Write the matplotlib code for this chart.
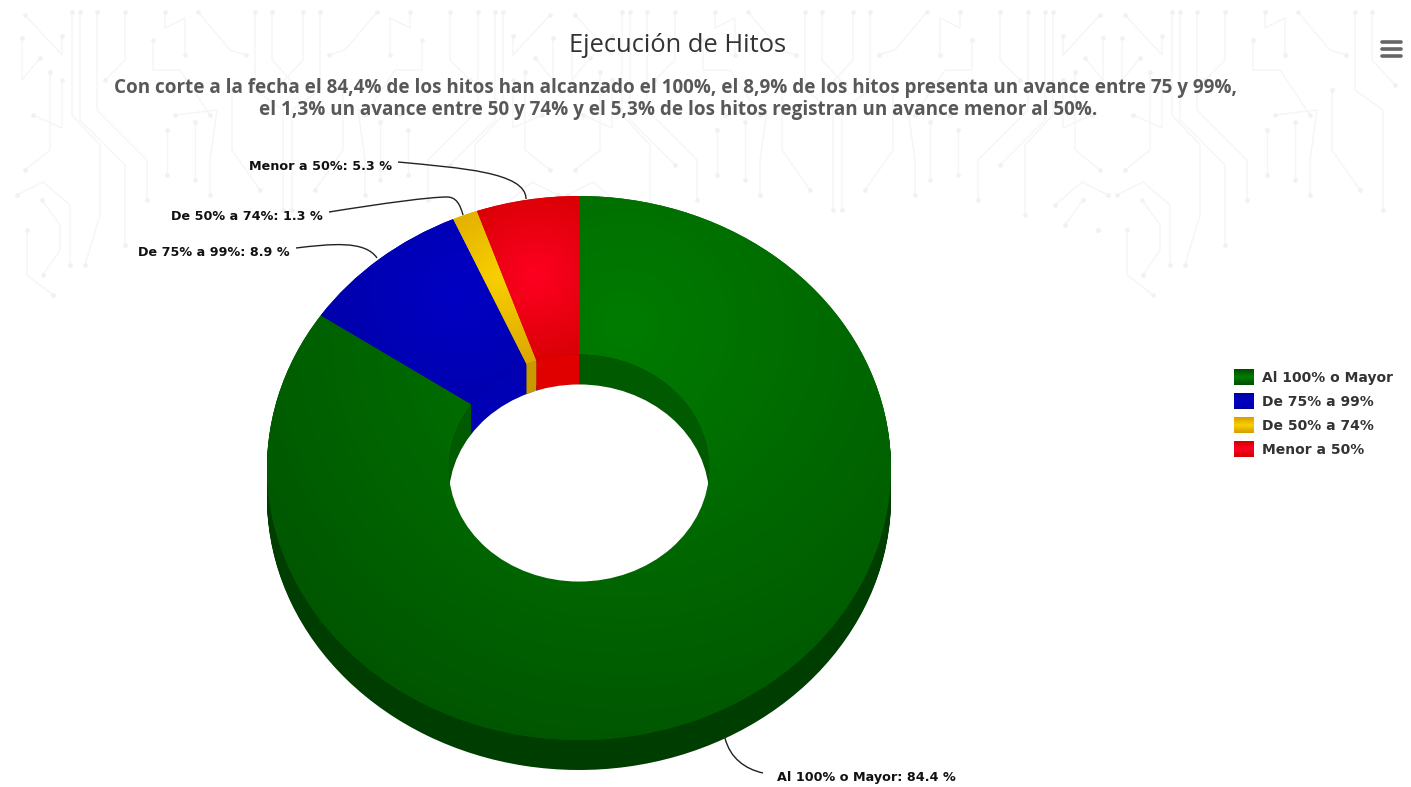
import matplotlib

matplotlib.use("Agg")

import matplotlib.pyplot as plt
import numpy as np
from matplotlib.colors import LinearSegmentedColormap
from matplotlib.patches import Circle, PathPatch, Polygon
from matplotlib.path import Path

WIDTH, HEIGHT = 1411, 787

TITLE = "Ejecución de Hitos"
SUBTITLE = [
    "Con corte a la fecha el 84,4% de los hitos han alcanzado el 100%, el 8,9% de los hitos presenta un avance entre 75 y 99%,",
    "el 1,3% un avance entre 50 y 74% y el 5,3% de los hitos registran un avance menor al 50%.",
]

categories = ["Al 100% o Mayor", "De 75% a 99%", "De 50% a 74%", "Menor a 50%"]
values = [84.4, 8.9, 1.3, 5.3]

# donut geometry in pixels (squashed circle plus extruded depth)
CX, CY = 579, 468
RX, RY = 312, 272
INNER = 0.4175
DEPTH = 30

side_colors = ["#003d00", "#00006e", "#8a6c00", "#8a0000"]
wall_colors = ["#005a00", "#0000b4", "#c89a00", "#e00000"]
base_colors = ["#005a00", "#0000b0", "#e0b000", "#e00000"]
# gradient per slice: center x, center y, reach, inner colour, outer colour
gradients = [
    (625, 325, 500, "#007c00", "#005000"),
    (460, 290, 190, "#0000c4", "#0000a2"),
    (498, 275, 110, "#f8d000", "#d8a000"),
    (535, 275, 100, "#ff0022", "#d40000"),
]

# circuit decoration in the page background, one tile
TILE_W = 300
traces = [
    [(72, 12), (72, 115), (100, 145), (100, 215), (85, 265)],
    [(80, 12), (80, 120), (125, 165), (125, 245)],
    [(97, 12), (97, 110), (147, 160), (147, 200)],
    [(125, 12), (125, 60), (105, 80)],
    [(22, 38), (22, 80), (40, 58)],
    [(25, 15), (62, 55), (62, 36)],
    [(50, 72), (50, 150), (25, 170)],
    [(62, 80), (62, 128), (33, 115)],
    [(17, 195), (43, 182), (70, 205), (70, 265)],
    [(42, 200), (60, 225), (60, 250), (43, 275)],
    [(27, 230), (27, 275), (53, 295)],
    [(165, 12), (165, 28), (185, 18), (185, 55)],
    [(198, 12), (230, 50), (246, 55)],
    [(153, 40), (153, 70), (180, 70), (210, 115)],
    [(175, 115), (217, 110), (210, 160), (210, 195)],
    [(167, 130), (167, 175)],
    [(195, 122), (195, 180)],
    [(232, 90), (232, 150), (260, 190)],
    [(255, 12), (255, 90), (283, 110), (283, 210)],
    [(272, 12), (272, 60), (295, 85)],
]
tile_x = [0, 275, 550, 825, 1100]

icon_y = [42, 49, 56]
legend_y = [377, 401, 425, 449]

label_anchor = [(777, 777, "left"), (290, 253, "right"), (323, 217, "right"), (392, 166, "right")]
leaders = [
    [(725, 738), (730, 758), (745, 769), (763, 773)],
    [(296, 248), (330, 244), (365, 240), (377, 258)],
    [(329, 212), (385, 203), (430, 197), (447, 197), (456, 197), (460, 204), (463, 215)],
    [(398, 162), (460, 168), (526, 172), (526, 199)],
]

fig = plt.figure(figsize=(WIDTH / 100, HEIGHT / 100), dpi=100, facecolor="white")

# background and text layers work in pixels, y going down
bg_ax = fig.add_axes([0, 0, 1, 1], zorder=0)
pie_ax = fig.add_axes([0, 0, 1, 1], zorder=1)
top_ax = fig.add_axes([0, 0, 1, 1], zorder=2)
for a in (bg_ax, top_ax):
    a.set_axis_off()
    a.patch.set_alpha(0)

for i, x0 in enumerate(tile_x):
    for trace in traces:
        pts = np.array(trace, dtype=float)
        # every other tile is mirrored, the pattern runs on that way
        xs = x0 + TILE_W - pts[:, 0] if i % 2 else x0 + pts[:, 0]
        # the middle tiles fade out earlier than the outer ones
        keep = pts[:, 1] < (335 if i in (0, 4) else 240)
        bg_ax.plot(xs[keep], pts[keep, 1], color="#f5f5f7", lw=1.0, solid_capstyle="round")
        bg_ax.plot(xs[keep][[0, -1]], pts[keep, 1][[0, -1]], "o", color="#f1f1f3", ms=3.4, mew=0)

# pie layer: unit circle of the pie is stretched to RX, RY by the axis limits
depth_u = DEPTH / RY
for d in range(DEPTH, 0, -1):
    side, _ = pie_ax.pie(values, colors=side_colors, startangle=90, counterclock=False,
                         radius=1.0, center=(0, -d / RY))
    for w in side:
        w.set_zorder(1)

wedges, _ = pie_ax.pie(values, colors=base_colors, startangle=90, counterclock=False,
                       radius=1.0, wedgeprops={"width": 1 - INNER})

px, py = np.meshgrid(np.linspace(0, WIDTH, 353), np.linspace(0, HEIGHT, 197))
extent = (-CX / RX, (WIDTH - CX) / RX, (CY - HEIGHT) / RY, CY / RY)
for w, (gx, gy, reach, c_in, c_out) in zip(wedges, gradients):
    w.set_zorder(2)
    dist = np.clip(np.hypot(px - gx, py - gy) / reach, 0, 1)
    cmap = LinearSegmentedColormap.from_list("slice", [c_in, c_out])
    im = pie_ax.imshow(dist, cmap=cmap, vmin=0, vmax=1, extent=extent, origin="upper",
                       aspect="auto", interpolation="bilinear", zorder=3)
    im.set_clip_path(w)

# inner wall of the hole
hole_clip = Circle((0, 0), INNER, transform=pie_ax.transData)
for w, color in zip(wedges, wall_colors):
    theta = np.radians(np.linspace(w.theta1, w.theta2, 200))
    ax_x = INNER * np.cos(theta)
    ax_y = INNER * np.sin(theta)
    outline = np.vstack([
        np.column_stack([ax_x, ax_y]),
        np.column_stack([ax_x[::-1], ax_y[::-1] - depth_u]),
    ])
    wall = Polygon(outline, closed=True, facecolor=color, edgecolor="none", zorder=4)
    pie_ax.add_patch(wall)
    wall.set_clip_path(hole_clip)

hole = Circle((0, -depth_u), INNER, facecolor="white", edgecolor="none", zorder=5)
pie_ax.add_patch(hole)
hole.set_clip_path(hole_clip)

pie_ax.set_aspect("auto")
pie_ax.set_xlim(extent[0], extent[1])
pie_ax.set_ylim(extent[2], extent[3])

# leader lines and data labels
for pts in leaders:
    codes = [Path.MOVETO] + [Path.CURVE4] * (len(pts) - 1)
    top_ax.add_patch(PathPatch(Path(pts, codes), facecolor="none", edgecolor="#222222", lw=1.0))

for cat, val, (x, y, ha) in zip(categories, values, label_anchor):
    top_ax.text(x, y, f"{cat}: {val} %", ha=ha, va="center", fontsize=9.2,
                fontweight="bold", family="DejaVu Sans", color="#111111")

top_ax.text(678, 46, TITLE, ha="center", va="center", fontsize=18.4,
            family="Open Sans", color="#333333")
top_ax.text(676, 88, SUBTITLE[0], ha="center", va="center", fontsize=13.6,
            family="Open Sans", fontweight="bold", color="#585858")
top_ax.text(678, 110, SUBTITLE[1], ha="center", va="center", fontsize=13.6,
            family="Open Sans", fontweight="bold", color="#585858")

# menu icon
for y in icon_y:
    top_ax.plot([1382, 1401], [y, y], color="#666666", lw=2.6, solid_capstyle="round")

# legend with the small vertical gradient swatches
for cat, y, (gx, gy, reach, c_in, c_out) in zip(categories, legend_y, gradients):
    cmap = LinearSegmentedColormap.from_list("swatch", [c_out, c_in, c_out])
    top_ax.imshow(np.linspace(0, 1, 16).reshape(-1, 1), cmap=cmap, aspect="auto",
                  extent=(1234, 1254, y + 8, y - 8), zorder=3)
    top_ax.text(1262, y + 1, cat, ha="left", va="center", fontsize=10,
                family="DejaVu Sans", fontweight="bold", color="#333333")

for a in (bg_ax, top_ax):
    a.set_xlim(0, WIDTH)
    a.set_ylim(HEIGHT, 0)

fig.savefig("out.png", dpi=100)
